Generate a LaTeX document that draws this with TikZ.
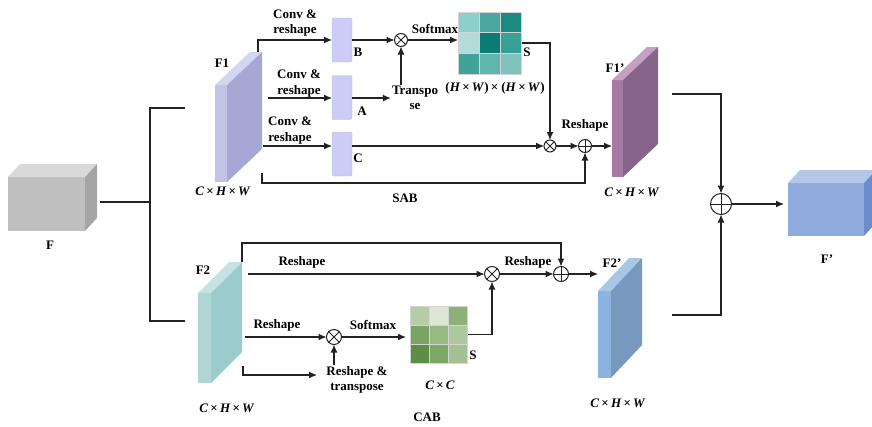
\documentclass[tikz,border=0pt]{standalone}
\usepackage{fontspec}
\setmainfont{Liberation Serif}
\usetikzlibrary{arrows.meta, positioning, calc}

\definecolor{ink}{HTML}{222222}
\definecolor{lav}{HTML}{CCCCF6}
\definecolor{lavline}{HTML}{B8B8E4}
\definecolor{cellgray}{HTML}{D4D4D4}
% cube and slab faces: front, top, side
\definecolor{fFront}{HTML}{BFBFBF}\definecolor{fTop}{HTML}{D9D9D9}\definecolor{fSide}{HTML}{A5A5A5}
\definecolor{fpFront}{HTML}{8FAADC}\definecolor{fpTop}{HTML}{B4C7E7}\definecolor{fpSide}{HTML}{6D8CCB}
\definecolor{aFront}{HTML}{C3C3E6}\definecolor{aTop}{HTML}{D5D5F0}\definecolor{aSide}{HTML}{A7A7D6}
\definecolor{apFront}{HTML}{A678A6}\definecolor{apTop}{HTML}{C4A0C4}\definecolor{apSide}{HTML}{87648A}
\definecolor{bFront}{HTML}{B0D5D5}\definecolor{bTop}{HTML}{C5E2E2}\definecolor{bSide}{HTML}{9CCBCB}
\definecolor{bpFront}{HTML}{8CB3E0}\definecolor{bpTop}{HTML}{A9C6E6}\definecolor{bpSide}{HTML}{7799BD}
% teal shades of the spatial matrix
\definecolor{t1}{HTML}{8CCFCB}\definecolor{t2}{HTML}{4AA8A0}\definecolor{t3}{HTML}{1C8B83}
\definecolor{t4}{HTML}{B2DCDB}\definecolor{t5}{HTML}{0A7C74}\definecolor{t6}{HTML}{38A096}
\definecolor{t7}{HTML}{3FA39A}\definecolor{t8}{HTML}{62B5AE}\definecolor{t9}{HTML}{80C3BE}
% green shades of the channel matrix
\definecolor{g1}{HTML}{B5CCA5}\definecolor{g2}{HTML}{DDE7D3}\definecolor{g3}{HTML}{8CB077}
\definecolor{g4}{HTML}{7AA465}\definecolor{g5}{HTML}{98BB85}\definecolor{g6}{HTML}{ADC89D}
\definecolor{g7}{HTML}{5C8E44}\definecolor{g8}{HTML}{7BA767}\definecolor{g9}{HTML}{A3C193}

\newcommand{\chw}{\textit{C}\,×\,\textit{H}\,×\,\textit{W}}
% top and side faces behind a front node: node, dx, dy, top colour, side colour
\newcommand{\faces}[5]{%
  \fill[#4] (#1.north west) -- ($(#1.north west)+(#2,-#3)$) -- ($(#1.north east)+(#2,-#3)$) -- (#1.north east) -- cycle;
  \fill[#5] (#1.north east) -- ($(#1.north east)+(#2,-#3)$) -- ($(#1.south east)+(#2,-#3)$) -- (#1.south east) -- cycle;
}

\begin{document}
\begin{tikzpicture}[x=1pt, y=-1pt,
  every node/.style={font=\bfseries\fontsize{13}{15.5}\selectfont},
  lbl/.style={align=center, inner sep=1pt},
  face/.style={inner sep=0, outer sep=0},
  fbox/.style={fill=lav, draw=lavline, rounded corners=2pt, minimum width=20pt, minimum height=44pt, inner sep=0, outer sep=0},
  edge/.style={-{Latex[length=8pt, width=7pt]}, line width=1.1pt, draw=ink},
  wire/.style={line width=1.1pt, draw=ink},
  mult/.style={circle, draw=ink, line width=1pt, minimum size=#1, inner sep=0, outer sep=0,
    path picture={\draw[ink, line width=1pt] (path picture bounding box.north west) -- (path picture bounding box.south east)
      (path picture bounding box.north east) -- (path picture bounding box.south west);}},
  plus/.style={circle, draw=ink, line width=1pt, minimum size=#1, inner sep=0, outer sep=0,
    path picture={\draw[ink, line width=1pt] (path picture bounding box.north) -- (path picture bounding box.south)
      (path picture bounding box.west) -- (path picture bounding box.east);}}
]
\useasboundingbox (0,0) rectangle (872,426);

% input and output cubes
\node[face, fill=fFront, minimum width=77pt, minimum height=54pt] (F) at (46.5,204) {};
\faces{F}{12}{13}{fTop}{fSide}
\node at (50,245) {F};
\node[face, fill=fpFront, minimum width=76pt, minimum height=53pt] (Fp) at (826,209.5) {};
\faces{Fp}{12}{13}{fpTop}{fpSide}
\node at (827,259) {F’};

% feature slabs
\node[face, fill=aFront, minimum width=12pt, minimum height=97pt] (F1) at (221,133.5) {};
\faces{F1}{35}{33}{aTop}{aSide}
\node at (222,63) {F1};
\node at (223,191) {\chw};
\node[face, fill=apFront, minimum width=11pt, minimum height=97pt] (F1p) at (617.5,128.5) {};
\faces{F1p}{35}{33}{apTop}{apSide}
\node at (615,68) {F1’};
\node at (632,192) {\chw};
\node[face, fill=bFront, minimum width=13pt, minimum height=90pt] (F2) at (204.5,338) {};
\faces{F2}{31}{31}{bTop}{bSide}
\node at (203,270) {F2};
\node at (227,408) {\chw};
\node[face, fill=bpFront, minimum width=13pt, minimum height=87pt] (F2p) at (604.5,334.5) {};
\faces{F2p}{31}{33}{bpTop}{bpSide}
\node at (612,263) {F2’};
\node at (618,403) {\chw};

% SAB
\node[fbox] (B) at (342,40) {};
\node[fbox] (A) at (342,97.5) {};
\node[fbox] (C) at (342,154) {};
\node at (358,52) {B};
\node at (362,111) {A};
\node at (358,158) {C};
\node[lbl] at (295,23) {Conv \&\\reshape};
\node[lbl] at (299,83.5) {Conv \&\\reshape};
\node[lbl] at (290,130.5) {Conv \&\\reshape};

\node[mult=13pt] (m1) at (401,40) {};
\node[lbl] (tr) at (415,98) {Transpo\\se};
\node at (435,29) {Softmax};
\node[face, minimum width=64pt, minimum height=62pt] (Smat) at (490,43) {};
\foreach \c [count=\i from 0] in {t1,t2,t3,t4,t5,t6,t7,t8,t9} {
  \pgfmathtruncatemacro{\row}{\i/3}
  \pgfmathtruncatemacro{\col}{mod(\i,3)}
  \filldraw[fill=\c, draw=cellgray, line width=1pt] ($(Smat.north west)+(\col*21.33,\row*20.67)$) rectangle ++(21.33,20.67);
}
\node at (527,52) {S};
\node at (495,88) {(\textit{H}\,×\,\textit{W})\,× (\textit{H}\,×\,\textit{W})};

\node[mult=12pt] (m2) at (550,146) {};
\node[plus=13pt] (p1) at (585,146) {};
\node at (585,125) {Reshape};
\node at (405,198) {SAB};

\coordinate (f1b) at (258,52);
\coordinate (f1a) at (268,98);
\coordinate (f1c) at (263,146);
\coordinate (f1r) at (262,173);
\coordinate (sabbot) at (262,183);

\draw[edge] (f1b) |- (B.west);
\draw[edge] (f1a) -- (f1a -| A.west);
\draw[edge] (f1c) -- (f1c -| C.west);
\draw[edge] (B.east |- m1) -- (m1);
\draw[edge] (A.east |- f1a) -- (tr.west |- f1a);
\draw[edge] (tr.north -| m1) -- (m1);
\draw[edge] (m1) -- (m1 -| Smat.west);
\draw[edge] (Smat.east) -| (m2);
\draw[edge] (C.east |- m2) -- (m2);
\draw[edge] (m2) -- (p1);
\draw[edge] (p1) -- (p1 -| F1p.west);
\draw[edge] (f1r) -- (sabbot) -| (p1);

% CAB
\node[mult=15pt] (m3) at (492,274) {};
\node[plus=15pt] (p2) at (561,274) {};
\node[mult=15pt] (m4) at (334,337) {};
\node at (302,262) {Reshape};
\node at (528,262) {Reshape};
\node at (277,325) {Reshape};
\node at (373,325) {Softmax};
\node[lbl] (rtl) at (357,380) {Reshape \&\\transpose};
\node[face, minimum width=58pt, minimum height=57pt] (Cmat) at (439,334.5) {};
\foreach \c [count=\i from 0] in {g1,g2,g3,g4,g5,g6,g7,g8,g9} {
  \pgfmathtruncatemacro{\row}{\i/3}
  \pgfmathtruncatemacro{\col}{mod(\i,3)}
  \filldraw[fill=\c, draw=cellgray, line width=1pt] ($(Cmat.north west)+(\col*19.33,\row*19)$) rectangle ++(19.33,19);
}
\node at (473,355) {S};
\node at (440,385) {\textit{C}\,×\,\textit{C}};
\node at (427,417) {CAB};

\coordinate (f2t) at (242,262);
\coordinate (cabtop) at (242,243);
\coordinate (f2a) at (248,274);
\coordinate (f2b) at (245,337);
\coordinate (f2c) at (243,366);
\coordinate (rt) at (317,375);

\draw[edge] (f2t) -- (cabtop) -| (p2);
\draw[edge] (f2a) -- (m3);
\draw[edge] (m3) -- (p2);
\draw[edge] (p2) -- (p2 -| F2p.west);
\draw[edge] (f2b) -- (m4);
\draw[edge, shorten >=4pt] (m4) -- (m4 -| Cmat.west);
\draw[edge] (f2c) |- (rt);
\draw[edge] (rtl.north -| m4) -- (m4);
\draw[edge] (Cmat.east) -| (m3);

% split and merge
\coordinate (fo) at (100,202);
\coordinate (split) at (150,202);
\coordinate (f1in) at (185,108);
\coordinate (f2in) at (185,321);
\draw[wire] (fo) -- (split);
\draw[wire] (f1in) -| (split) |- (f2in);

\node[plus=21pt] (p3) at (721,204) {};
\coordinate (f1o) at (672,94);
\coordinate (f2o) at (672,315);
\draw[edge] (f1o) -| (p3);
\draw[edge] (f2o) -| (p3);
\draw[edge, shorten >=4pt] (p3) -- (p3 -| Fp.west);
\end{tikzpicture}
\end{document}
